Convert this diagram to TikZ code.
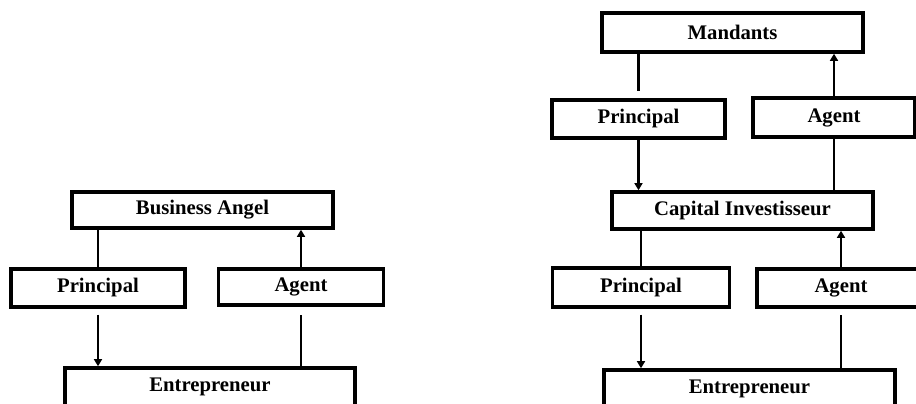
\documentclass[tikz,border=0pt]{standalone}
\usepackage{fontspec}
\setmainfont{Liberation Serif}
\usetikzlibrary{arrows.meta}

\begin{document}
\begin{tikzpicture}
  [
    x=0.02cm, y=-0.02cm,
    box/.style={
      draw, line width=2pt, inner sep=0pt,
      font=\fontsize{11.8}{13}\selectfont\bfseries
    },
    line/.style={
      line width=1.4pt
    },
    arr/.style={
      line, -{Triangle[length=4pt,width=4.5pt]}
    }
  ]
\useasboundingbox (0,0) rectangle (916,404);
\clip (0,0) rectangle (916,404);

% Business angel
\node (ba)     [box, minimum width=5.22cm, minimum height=0.72cm] at (202.5,210) {Business Angel};
\node (princ1) [box, minimum width=3.48cm, minimum height=0.76cm] at (98,288)    {Principal};
\node (agent1) [box, minimum width=3.3cm,  minimum height=0.72cm] at (301,287)   {Agent};
\node (entr1)  [box, minimum width=5.8cm,  minimum height=0.76cm] at (210,387)   {Entrepreneur};

\draw [line] (princ1.north) -- (princ1.north |- ba.south);
\draw [arr, shorten <=3.4pt] (princ1.south) -- (princ1.south |- entr1.north);
\draw [arr] (agent1.north) -- (agent1.north |- ba.south);
\draw [line, shorten >=4.5pt] (agent1.south |- entr1.north) -- (agent1.south);

% Capital investisseur
\node (mand)   [box, minimum width=5.22cm, minimum height=0.78cm] at (732.5,32.5) {Mandants};
\node (princ2) [box, minimum width=3.46cm, minimum height=0.76cm] at (638.5,119)  {Principal};
\node (agent2) [box, minimum width=3.24cm, minimum height=0.78cm] at (834,117.5)  {Agent};
\node (capinv) [box, minimum width=5.22cm, minimum height=0.74cm] at (742.5,210.5) {Capital Investisseur};
\node (princ3) [box, minimum width=3.54cm, minimum height=0.78cm] at (641,287.5)  {Principal};
\node (agent3) [box, minimum width=3.36cm, minimum height=0.76cm] at (841,288)    {Agent};
\node (entr2)  [box, minimum width=5.82cm, minimum height=0.76cm] at (749.5,389)  {Entrepreneur};

\draw [line, shorten >=4pt] (mand.south -| princ2.north) -- (princ2.north);
\draw [arr] (princ2.south) -- (princ2.south |- capinv.north);
\draw [arr] (agent2.north) -- (agent2.north |- mand.south);
\draw [line] (capinv.north -| agent2.south) -- (agent2.south);

\draw [line] (princ3.north) -- (princ3.north |- capinv.south);
\draw [arr, shorten <=3.4pt] (princ3.south) -- (princ3.south |- entr2.north);
\draw [arr] (agent3.north) -- (agent3.north |- capinv.south);
\draw [line, shorten >=3.4pt] (agent3.south |- entr2.north) -- (agent3.south);

\end{tikzpicture}
\end{document}
